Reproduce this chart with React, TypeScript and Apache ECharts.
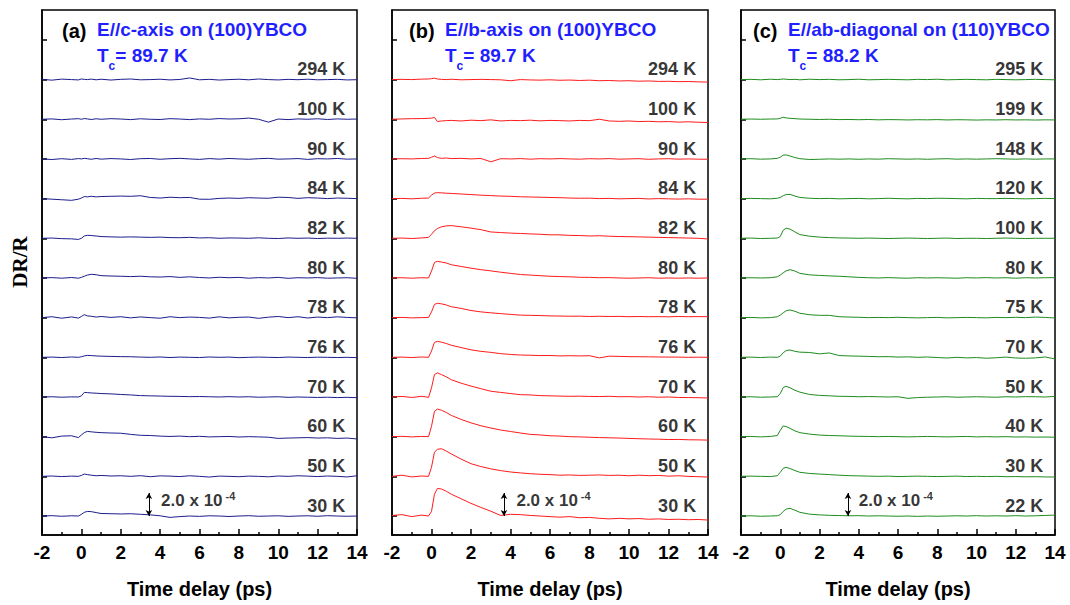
import React, { useEffect, useRef } from "react";
import * as echarts from "echarts";

// Shared time axis (ps)
const TIME = [-2, -1.5, -1, -0.5, -0.15, 0, 0.15, 0.3, 0.5, 0.75, 1, 1.5, 2, 2.5, 3, 3.5, 4, 4.5, 5, 5.5, 6, 6.5, 7, 7.5, 8, 8.5, 9, 9.5, 10, 10.5, 11, 11.5, 12, 12.5, 13, 13.5, 14];

// ΔR/R traces in units of 1e-4, listed bottom to top
// (a) E//c-axis on (100)YBCO
const a30 = [0.0, 0.03, -0.02, 0.02, 0.0, 0.15, 0.32, 0.4, 0.38, 0.3, 0.22, 0.2, 0.18, 0.2, 0.15, 0.1, 0.02, -0.12, -0.05, 0.0, -0.03, 0.02, 0.0, -0.04, 0.0, 0.03, -0.02, 0.0, 0.02, -0.03, 0.0, 0.02, -0.02, 0.03, 0.0, -0.02, 0.0];
const a50 = [0.0, 0.03, -0.02, 0.02, 0.0, 0.08, 0.2, 0.15, 0.1, 0.05, 0.08, 0.03, 0.05, 0.0, 0.06, -0.03, 0.04, 0.02, -0.02, 0.05, 0.0, -0.06, 0.02, 0.0, -0.03, 0.02, 0.0, -0.04, 0.03, 0.0, 0.05, 0.02, -0.02, 0.03, 0.0, -0.05, 0.05];
const a60 = [0.0, -0.1, 0.05, 0.08, -0.08, 0.15, 0.35, 0.46, 0.42, 0.38, 0.35, 0.32, 0.3, 0.2, 0.12, 0.1, 0.05, 0.02, 0.05, 0.0, 0.03, -0.02, 0.0, 0.02, -0.03, 0.0, -0.02, -0.05, -0.15, -0.12, -0.1, -0.08, -0.12, -0.1, -0.15, -0.12, -0.2];
const a70 = [0.0, 0.02, -0.02, 0.01, 0.0, 0.1, 0.4, 0.38, 0.35, 0.33, 0.3, 0.27, 0.22, 0.18, 0.12, 0.1, 0.08, 0.06, 0.05, 0.03, 0.04, 0.02, 0.0, 0.03, 0.0, 0.02, -0.02, 0.0, 0.02, -0.03, 0.0, -0.02, -0.04, -0.02, -0.05, -0.03, -0.06];
const a76 = [0.0, 0.02, -0.02, 0.03, 0.0, 0.05, 0.12, 0.17, 0.15, 0.12, 0.1, 0.08, 0.06, 0.05, 0.02, 0.0, 0.03, -0.02, 0.02, 0.0, -0.02, 0.03, 0.0, 0.02, -0.03, 0.0, 0.02, 0.0, -0.02, 0.02, 0.0, -0.02, 0.01, 0.0, -0.02, 0.0, -0.03];
const a78 = [0.0, 0.08, -0.05, 0.06, -0.04, 0.1, 0.26, 0.15, 0.12, 0.05, 0.1, 0.02, 0.08, -0.02, 0.06, 0.0, -0.05, 0.08, 0.0, 0.05, 0.02, -0.04, 0.07, -0.02, 0.03, 0.05, -0.06, 0.04, 0.1, 0.0, 0.08, -0.03, 0.05, 0.0, 0.07, 0.02, -0.02];
const a80 = [0.0, 0.03, -0.02, 0.04, -0.02, 0.05, 0.15, 0.25, 0.32, 0.28, 0.2, 0.17, 0.15, 0.12, 0.15, 0.1, 0.08, 0.12, 0.05, 0.1, 0.04, 0.0, 0.06, 0.02, 0.05, -0.02, 0.03, 0.0, 0.05, -0.03, 0.02, 0.0, 0.03, -0.02, 0.0, 0.02, -0.03];
const a82 = [0.0, 0.02, -0.03, -0.05, -0.1, 0.0, 0.2, 0.26, 0.24, 0.2, 0.15, 0.12, 0.1, 0.12, 0.1, 0.08, 0.1, 0.06, 0.05, 0.08, 0.03, 0.05, 0.0, 0.03, 0.02, 0.0, 0.04, 0.0, -0.02, 0.03, 0.0, 0.02, -0.02, 0.01, 0.0, 0.02, 0.0];
const a84 = [0.0, -0.05, -0.1, -0.15, -0.05, 0.05, 0.18, 0.15, 0.2, 0.15, 0.18, 0.2, 0.22, 0.2, 0.25, 0.1, 0.05, 0.12, 0.08, 0.1, -0.05, -0.06, 0.02, 0.05, 0.02, 0.08, 0.05, 0.03, 0.12, 0.1, 0.02, 0.08, 0.05, 0.0, 0.05, 0.03, 0.0];
const a90 = [0.0, -0.05, 0.02, -0.04, 0.03, 0.0, 0.05, 0.02, -0.03, 0.04, -0.02, 0.03, 0.0, -0.05, 0.02, 0.04, -0.03, 0.02, 0.05, 0.0, -0.04, 0.03, -0.02, 0.04, 0.0, -0.03, 0.02, 0.05, -0.02, 0.0, 0.03, -0.04, 0.02, 0.0, 0.04, -0.02, 0.0];
const a100 = [0.0, 0.03, -0.04, 0.02, 0.05, 0.0, 0.06, 0.03, -0.02, 0.04, 0.0, 0.05, 0.02, -0.03, 0.04, 0.0, -0.02, 0.05, 0.02, -0.03, 0.03, 0.0, 0.06, 0.02, 0.04, 0.1, 0.0, -0.25, 0.02, -0.03, 0.03, 0.0, 0.04, -0.02, 0.03, 0.0, 0.02];
const a294 = [0.02, -0.05, 0.04, 0.0, -0.03, 0.05, 0.02, 0.0, 0.04, -0.02, 0.03, -0.04, 0.02, 0.05, -0.02, 0.0, 0.03, -0.03, 0.01, 0.14, -0.02, 0.02, -0.04, 0.0, 0.03, -0.02, 0.05, 0.0, -0.03, 0.02, -0.01, 0.03, -0.02, 0.0, 0.02, -0.03, -0.01];

// (b) E//b-axis on (100)YBCO
const b30 = [0.05, 0.12, -0.05, 0.08, 0.0, 0.4, 1.9, 2.4, 2.35, 2.15, 1.9, 1.5, 1.1, 0.75, 0.42, 0.05, 0.15, 0.12, 0.05, 0.0, -0.05, -0.1, -0.05, -0.15, -0.12, -0.2, -0.25, -0.2, -0.25, -0.22, -0.28, -0.25, -0.3, -0.28, -0.32, -0.3, -0.35];
const b50 = [0.0, 0.1, -0.05, 0.03, 0.0, 0.8, 2.1, 2.35, 2.4, 2.2, 1.95, 1.5, 1.1, 0.85, 0.65, 0.5, 0.38, 0.3, 0.23, 0.18, 0.15, 0.1, 0.12, 0.08, 0.1, 0.12, 0.08, 0.1, 0.05, 0.1, 0.06, 0.08, 0.02, 0.05, 0.0, -0.03, -0.06];
const b60 = [0.0, 0.03, -0.02, 0.02, 0.0, 0.9, 2.2, 2.4, 2.3, 2.1, 1.85, 1.5, 1.2, 0.95, 0.75, 0.58, 0.45, 0.32, 0.2, 0.15, 0.08, 0.05, 0.0, -0.02, -0.05, -0.08, -0.1, -0.12, -0.15, -0.18, -0.2, -0.22, -0.25, -0.24, -0.27, -0.28, -0.3];
const b70 = [0.0, 0.05, -0.04, 0.06, -0.03, 0.8, 1.95, 2.1, 1.95, 1.75, 1.5, 1.2, 0.95, 0.72, 0.5, 0.4, 0.3, 0.2, 0.18, 0.12, 0.1, 0.08, 0.06, 0.07, 0.05, 0.04, 0.06, 0.02, 0.03, 0.0, 0.02, -0.02, 0.0, -0.04, -0.05, -0.06, -0.09];
const b76 = [0.0, 0.02, -0.02, 0.03, 0.0, 0.55, 1.3, 1.39, 1.32, 1.2, 1.05, 0.85, 0.65, 0.52, 0.43, 0.32, 0.25, 0.2, 0.18, 0.15, 0.16, 0.12, 0.14, 0.12, 0.14, -0.05, 0.1, 0.08, 0.06, 0.05, 0.04, 0.03, 0.02, 0.02, 0.0, 0.01, 0.0];
const b78 = [0.0, 0.02, -0.02, 0.0, 0.02, 0.5, 1.15, 1.25, 1.2, 1.1, 0.95, 0.8, 0.62, 0.5, 0.42, 0.35, 0.28, 0.22, 0.2, 0.18, 0.15, 0.14, 0.12, 0.13, 0.1, 0.12, 0.1, 0.11, 0.08, 0.1, 0.08, 0.09, 0.07, 0.1, 0.08, 0.09, 0.08];
const b80 = [0.0, 0.02, -0.02, 0.02, 0.0, 0.6, 1.35, 1.45, 1.38, 1.3, 1.15, 1.0, 0.85, 0.72, 0.62, 0.5, 0.4, 0.3, 0.25, 0.2, 0.15, 0.12, 0.1, 0.06, 0.05, 0.02, 0.03, 0.0, -0.02, 0.0, 0.02, -0.02, 0.0, -0.02, 0.0, -0.02, 0.0];
const b82 = [0.0, 0.02, -0.02, 0.03, 0.08, 0.35, 0.65, 0.85, 1.0, 1.08, 1.1, 1.0, 0.88, 0.75, 0.55, 0.5, 0.45, 0.42, 0.38, 0.35, 0.3, 0.3, 0.25, 0.24, 0.2, 0.22, 0.18, 0.15, 0.14, 0.12, 0.1, 0.08, 0.06, 0.04, 0.02, 0.0, -0.06];
const b84 = [0.0, 0.02, -0.02, 0.03, 0.05, 0.3, 0.48, 0.52, 0.5, 0.47, 0.45, 0.4, 0.35, 0.3, 0.26, 0.22, 0.2, 0.16, 0.14, 0.12, 0.1, 0.08, 0.05, 0.03, 0.04, 0.0, 0.02, -0.02, 0.0, 0.02, -0.03, 0.0, -0.02, -0.04, -0.02, -0.05, -0.05];
const b90 = [0.0, 0.02, 0.0, 0.04, 0.05, 0.15, 0.25, 0.12, 0.05, 0.08, 0.03, 0.05, 0.0, 0.04, -0.25, 0.02, 0.0, 0.03, -0.02, 0.02, 0.0, 0.03, 0.0, -0.02, 0.02, 0.0, 0.03, -0.02, 0.0, 0.02, -0.03, 0.0, 0.02, -0.02, 0.0, -0.02, -0.03];
const b100 = [0.0, 0.03, 0.05, 0.06, 0.08, 0.1, 0.15, -0.2, -0.15, -0.12, -0.1, -0.15, -0.08, -0.12, -0.05, -0.15, -0.1, -0.12, -0.08, -0.14, -0.1, -0.12, -0.15, -0.1, -0.12, 0.0, -0.15, -0.18, -0.15, -0.2, -0.18, -0.22, -0.2, -0.25, -0.22, -0.26, -0.28];
const b294 = [0.0, 0.02, 0.0, 0.04, 0.05, 0.08, 0.12, 0.05, 0.02, 0.0, 0.03, -0.02, 0.0, 0.02, 0.0, -0.02, -0.1, 0.0, -0.03, -0.05, -0.02, -0.06, -0.04, -0.08, -0.05, -0.1, -0.08, -0.12, -0.1, -0.14, -0.12, -0.16, -0.15, -0.18, -0.17, -0.2, -0.22];

// (c) E//ab-diagonal on (110)YBCO
const c22 = [0.0, 0.02, -0.02, 0.0, 0.02, 0.12, 0.4, 0.6, 0.67, 0.5, 0.32, 0.16, 0.1, 0.06, 0.04, 0.02, 0.03, 0.0, 0.02, 0.0, -0.02, 0.0, -0.03, 0.0, -0.02, 0.0, 0.02, 0.0, 0.03, 0.0, 0.02, 0.0, 0.03, 0.0, 0.02, 0.05, 0.08];
const c30 = [0.0, 0.02, 0.0, -0.02, 0.05, 0.35, 0.7, 0.78, 0.68, 0.5, 0.35, 0.25, 0.2, 0.15, 0.1, 0.06, 0.04, 0.02, 0.0, 0.02, -0.02, 0.0, 0.02, 0.0, -0.02, 0.0, 0.02, -0.02, 0.0, -0.02, 0.0, -0.03, -0.02, -0.04, -0.03, -0.05, -0.06];
const c40 = [0.0, 0.02, -0.02, 0.02, 0.1, 0.55, 0.93, 0.88, 0.72, 0.5, 0.35, 0.22, 0.14, 0.1, 0.08, 0.05, 0.03, 0.02, 0.0, 0.02, 0.0, -0.02, 0.0, 0.02, 0.0, -0.02, 0.0, 0.02, -0.02, 0.0, -0.02, 0.0, -0.03, -0.02, -0.04, -0.03, -0.05];
const c50 = [0.0, 0.02, -0.02, 0.0, 0.02, 0.3, 0.82, 0.93, 0.8, 0.58, 0.42, 0.22, 0.14, 0.1, 0.06, 0.05, 0.02, 0.04, 0.02, 0.0, 0.02, -0.12, -0.05, -0.02, 0.0, 0.02, -0.02, 0.0, 0.02, 0.0, -0.02, 0.02, 0.0, 0.03, 0.02, 0.0, 0.05];
const c70 = [0.0, 0.02, -0.02, 0.02, 0.0, 0.1, 0.4, 0.58, 0.64, 0.52, 0.45, 0.42, 0.3, 0.38, 0.15, 0.12, 0.1, 0.08, 0.05, 0.06, 0.02, 0.04, 0.0, 0.03, -0.02, -0.06, 0.0, -0.05, -0.02, -0.08, -0.04, 0.02, -0.06, -0.08, -0.05, 0.03, -0.14];
const c75 = [0.0, 0.02, -0.02, 0.0, 0.08, 0.22, 0.42, 0.6, 0.67, 0.55, 0.38, 0.25, 0.2, 0.2, 0.08, 0.05, 0.03, 0.0, 0.02, 0.0, 0.03, 0.0, -0.02, 0.0, 0.02, -0.02, 0.0, 0.02, 0.0, -0.02, 0.02, 0.0, 0.03, 0.0, 0.05, 0.02, -0.03];
const c80 = [0.0, 0.02, 0.0, 0.02, 0.1, 0.25, 0.45, 0.62, 0.72, 0.6, 0.4, 0.27, 0.22, 0.18, 0.15, 0.1, 0.05, 0.02, 0.0, 0.03, 0.0, -0.02, 0.02, 0.0, 0.02, 0.0, -0.02, 0.02, 0.0, 0.03, 0.0, 0.02, -0.02, 0.02, 0.0, 0.02, 0.03];
const c100 = [0.0, 0.02, -0.02, 0.0, 0.02, 0.15, 0.7, 0.87, 0.8, 0.55, 0.32, 0.18, 0.1, 0.06, 0.03, 0.02, 0.0, 0.02, 0.0, -0.02, 0.0, 0.02, 0.0, -0.02, 0.0, 0.02, -0.02, 0.0, 0.0, -0.02, 0.0, 0.02, 0.0, -0.02, 0.0, 0.0, 0.0];
const c120 = [0.0, 0.02, 0.0, -0.02, 0.03, 0.1, 0.25, 0.35, 0.37, 0.22, 0.1, 0.03, 0.0, 0.02, -0.02, 0.0, 0.02, -0.02, 0.0, 0.03, 0.0, -0.02, 0.02, 0.0, 0.03, 0.02, 0.0, -0.02, 0.02, 0.0, 0.0, 0.02, 0.0, -0.02, 0.0, 0.02, 0.0];
const c148 = [0.0, 0.02, -0.02, 0.0, 0.05, 0.15, 0.33, 0.35, 0.25, 0.12, 0.02, -0.05, -0.03, 0.0, -0.02, 0.0, -0.03, 0.0, -0.02, 0.02, 0.0, -0.02, 0.0, -0.03, 0.0, 0.02, -0.02, 0.0, -0.02, 0.0, 0.02, 0.0, -0.02, 0.0, -0.02, 0.0, 0.0];
const c199 = [0.0, 0.02, 0.0, 0.02, 0.03, 0.08, 0.17, 0.12, 0.08, 0.05, 0.02, 0.0, -0.02, 0.0, -0.03, -0.02, -0.04, -0.02, -0.05, -0.03, -0.04, -0.06, -0.04, -0.05, -0.03, -0.06, -0.04, -0.05, -0.07, -0.05, -0.06, -0.04, -0.06, -0.05, -0.07, -0.05, -0.06];
const c295 = [0.0, 0.02, -0.02, 0.03, 0.0, 0.02, 0.05, 0.03, 0.0, 0.02, -0.02, 0.03, 0.0, 0.02, -0.02, 0.0, 0.03, -0.02, 0.0, 0.02, 0.0, -0.02, 0.02, 0.0, 0.03, -0.02, 0.0, 0.02, 0.0, -0.02, 0.02, 0.0, -0.02, 0.0, 0.02, 0.0, -0.02];

const A_TRACES = [a30, a50, a60, a70, a76, a78, a80, a82, a84, a90, a100, a294];
const B_TRACES = [b30, b50, b60, b70, b76, b78, b80, b82, b84, b90, b100, b294];
const C_TRACES = [c22, c30, c40, c50, c70, c75, c80, c100, c120, c148, c199, c295];

const A_LABELS = ["30 K", "50 K", "60 K", "70 K", "76 K", "78 K", "80 K", "82 K", "84 K", "90 K", "100 K", "294 K"];
const B_LABELS = ["30 K", "50 K", "60 K", "70 K", "76 K", "78 K", "80 K", "82 K", "84 K", "90 K", "100 K", "294 K"];
const C_LABELS = ["22 K", "30 K", "40 K", "50 K", "70 K", "75 K", "80 K", "100 K", "120 K", "148 K", "199 K", "295 K"];

const SCALE_BAR = 2.0; // 2.0 x 10^-4

const FONT = "'Liberation Sans', Arial, Helvetica, sans-serif";

export default function App() {
  const ref = useRef<HTMLDivElement>(null);

  useEffect(() => {
    if (!ref.current) return;
    const chart = echarts.init(ref.current, null, { renderer: "svg" });

    const SPACING = 3.45;
    const Y_MIN = -1.65;
    const Y_MAX = 44.0;
    const LABEL_X = 13.4;
    const LABEL_DY = 0.9;

    const panels = [
      { left: 42, width: 315, color: "#1c1c8e", traces: A_TRACES, labels: A_LABELS, arrowX: 3.43, textX: 4.05,
        letter: "(a)", letterX: 62, titleX: 97, title: "E//c-axis on (100)YBCO", tc: "= 89.7 K" },
      { left: 392, width: 316, color: "#ff1a1a", traces: B_TRACES, labels: B_LABELS, arrowX: 3.67, textX: 4.3,
        letter: "(b)", letterX: 409, titleX: 445, title: "E//b-axis on (100)YBCO", tc: "= 89.7 K" },
      { left: 741, width: 314, color: "#1e8c1e", traces: C_TRACES, labels: C_LABELS, arrowX: 3.45, textX: 4.0,
        letter: "(c)", letterX: 753, titleX: 788, title: "E//ab-diagonal on (110)YBCO", tc: "= 88.2 K" },
    ];

    const nTicks = 13;
    const yTicks: number[] = [];
    for (let i = 0; i < nTicks; i++) yTicks.push(+(i * SPACING).toFixed(3));

    const grids: any[] = [];
    const xAxes: any[] = [];
    const yAxes: any[] = [];
    const series: any[] = [];
    const graphics: any[] = [];

    panels.forEach((p, pi) => {
      grids.push({
        left: p.left, width: p.width, top: 10, height: 525,
        show: true, borderColor: "#000", borderWidth: 1.5, backgroundColor: "transparent",
      });
      xAxes.push({
        type: "value", gridIndex: pi, min: -2, max: 14, interval: 2,
        name: "Time delay (ps)", nameLocation: "middle", nameGap: 44,
        nameTextStyle: { fontFamily: FONT, fontWeight: "bold", fontSize: 20, color: "#000" },
        axisLine: { show: true, onZero: false, lineStyle: { color: "#000", width: 1.5 } },
        axisTick: { show: true, inside: true, length: 6, lineStyle: { color: "#000", width: 1.5 } },
        minorTick: { show: true, splitNumber: 2, length: 3, lineStyle: { color: "#000", width: 1.5 } },
        axisLabel: { fontFamily: FONT, fontWeight: "bold", fontSize: 19, color: "#000", margin: 8 },
        splitLine: { show: false },
        minorSplitLine: { show: false },
      });
      yAxes.push({
        type: "value", gridIndex: pi, min: Y_MIN, max: Y_MAX,
        axisLine: { show: true, onZero: false, lineStyle: { color: "#000", width: 1.5 } },
        axisTick: { show: true, inside: true, length: 5, customValues: yTicks, lineStyle: { color: "#000", width: 1.5 } },
        axisLabel: { show: false },
        splitLine: { show: false },
      });

      p.traces.forEach((vals, i) => {
        series.push({
          type: "line", xAxisIndex: pi, yAxisIndex: pi,
          data: TIME.map((t, k) => [t, vals[k] + i * SPACING]),
          showSymbol: false, symbol: "none", smooth: false,
          lineStyle: { color: p.color, width: 1 },
          z: 3,
        });
      });

      series.push({
        type: "scatter", xAxisIndex: pi, yAxisIndex: pi,
        symbolSize: 0, silent: true, z: 5,
        data: [
          ...p.labels.map((lab, i) => ({
            value: [LABEL_X, i * SPACING + LABEL_DY],
            label: {
              show: true, position: "left", distance: 0, formatter: lab,
              fontFamily: FONT, fontWeight: "bold", fontSize: 18, color: "#000",
            },
          })),
          {
            value: [p.textX, 1.35],
            label: {
              show: true, position: "right", distance: 0,
              formatter: "{m|2.0 x 10}{s|-4}",
              rich: {
                m: { fontFamily: FONT, fontWeight: "bold", fontSize: 17, color: "#000", lineHeight: 20 },
                s: { fontFamily: FONT, fontWeight: "bold", fontSize: 11, color: "#000", lineHeight: 12, verticalAlign: "top", padding: [0, 0, 0, 3] },
              },
            },
          },
        ],
        markLine: {
          silent: true, symbol: ["arrow", "arrow"], symbolSize: [5, 6],
          label: { show: false },
          lineStyle: { color: "#000", width: 1, type: "solid" },
          data: [[{ coord: [p.arrowX, 0] }, { coord: [p.arrowX, SCALE_BAR] }]],
        },
      });

      graphics.push({
        type: "text", left: p.letterX, top: 21,
        style: { text: p.letter, font: `bold 20px ${FONT}`, fill: "#000" },
      });
      graphics.push({
        type: "text", left: p.titleX, top: 20,
        style: { text: p.title, font: `bold 19px ${FONT}`, fill: "#1f1fff" },
      });
      graphics.push({
        type: "text", x: p.titleX, y: 55,
        style: {
          text: `{t|T}{c|c}{r|${p.tc}}`,
          verticalAlign: "middle", align: "left",
          rich: {
            t: { fontFamily: FONT, fontWeight: "bold", fontSize: 19, fill: "#1f1fff", lineHeight: 34 },
            c: { fontFamily: FONT, fontWeight: "bold", fontSize: 12, fill: "#1f1fff", lineHeight: 12, verticalAlign: "bottom" },
            r: { fontFamily: FONT, fontWeight: "bold", fontSize: 19, fill: "#1f1fff", lineHeight: 34 },
          },
        },
      });
    });

    graphics.push({
      type: "text", x: 20, y: 262, rotation: Math.PI / 2,
      style: { text: "DR/R", font: `bold 21px 'Liberation Serif', 'Times New Roman', serif`, fill: "#000", align: "center", verticalAlign: "middle" },
    });

    chart.setOption({
      animation: false,
      backgroundColor: "#fff",
      grid: grids,
      xAxis: xAxes,
      yAxis: yAxes,
      series,
      graphic: graphics,
    });

    return () => chart.dispose();
  }, []);

  return (
    <div
      ref={ref}
      style={{ position: "fixed", left: 0, top: 0, width: 1070, height: 605, background: "#fff" }}
    />
  );
}
